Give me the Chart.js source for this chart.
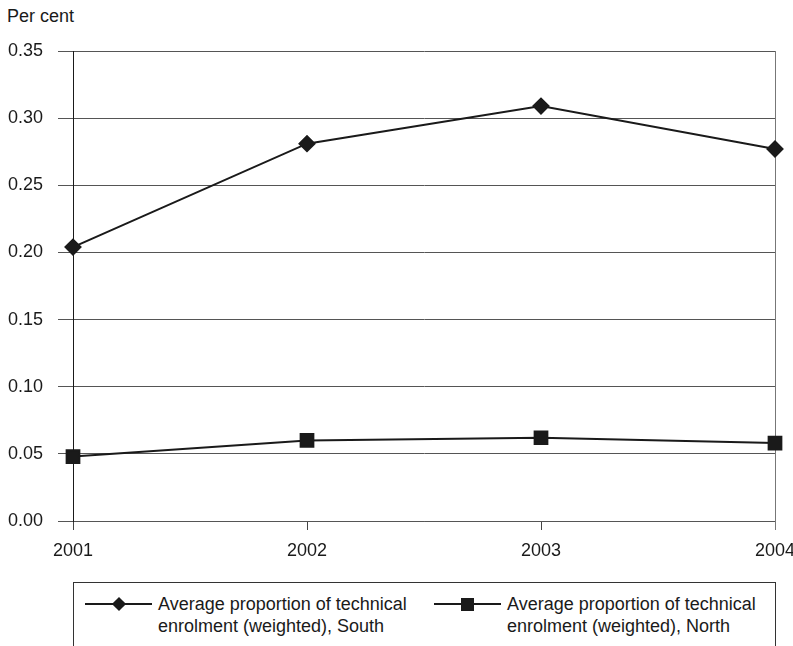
<!DOCTYPE html>
<html>
<head>
<meta charset="utf-8">
<script src="https://cdn.jsdelivr.net/npm/chart.js@4"></script>
<style>
  html, body { margin: 0; padding: 0; background: #fff; overflow: hidden; }
  body { width: 793px; height: 646px; position: relative; font-family: 'Liberation Sans', Arial, sans-serif; color: #1a1a1a; }
  #unit { position: absolute; left: 7px; top: 6px; font-size: 18px; }
  #wrap { position: absolute; left: 0; top: 0; width: 793px; height: 560px; }
  #legend { position: absolute; left: 73px; top: 582px; width: 701px; height: 120px; border: 1px solid #333; }
  .item { position: absolute; top: 10px; font-size: 18px; line-height: 22px; }
  .sym { position: absolute; top: 20px; width: 67px; height: 2px; background: #1a1a1a; }
  .sym i { position: absolute; left: 50%; top: 1px; background: #1a1a1a; }
  .sym .dia { width: 10px; height: 10px; margin: -5px 0 0 -5px; transform: rotate(45deg); }
  .sym .sq { width: 13px; height: 13px; margin: -6.5px 0 0 -6.5px; }
</style>
</head>
<body>
<div id="unit">Per cent</div>
<div id="wrap"><canvas id="chart" width="793" height="560"></canvas></div>
<div id="legend">
  <div class="sym" style="left:11px"><i class="dia"></i></div>
  <div class="item" style="left:84px">Average proportion of technical<br>enrolment (weighted), South</div>
  <div class="sym" style="left:360px"><i class="sq"></i></div>
  <div class="item" style="left:433px">Average proportion of technical<br>enrolment (weighted), North</div>
</div>
<script>
const years = ['2001', '2002', '2003', '2004'];
const south = [0.204, 0.281, 0.309, 0.277];
const north = [0.048, 0.060, 0.062, 0.058];
const yTicks = [0, 0.05, 0.10, 0.15, 0.20, 0.25, 0.30, 0.35];

const font = { family: "'Liberation Sans', Arial, sans-serif", size: 18 };
const ink = '#1a1a1a';

// grey right edge of the plot, running down to the tick mark
const frame = {
  id: 'frame',
  beforeDatasetsDraw(c) {
    const a = c.chartArea, ctx = c.ctx;
    ctx.save();
    ctx.strokeStyle = '#777';
    ctx.lineWidth = 1;
    ctx.beginPath();
    ctx.moveTo(a.right + 0.5, a.top);
    ctx.lineTo(a.right + 0.5, a.bottom + 9);
    ctx.stroke();
    ctx.restore();
  }
};

new Chart(document.getElementById('chart'), {
  type: 'line',
  data: {
    labels: years,
    datasets: [
      { label: 'South', data: south, borderColor: ink, backgroundColor: ink, borderWidth: 2,
        pointStyle: 'rectRot', pointRadius: 7.5, pointHoverRadius: 7.5, tension: 0 },
      { label: 'North', data: north, borderColor: ink, backgroundColor: ink, borderWidth: 2,
        pointStyle: 'rect', pointRadius: 9, pointHoverRadius: 9, tension: 0 }
    ]
  },
  options: {
    responsive: false,
    animation: false,
    layout: { padding: { top: 51, right: 18, left: 0, bottom: 0 } },
    plugins: { legend: { display: false }, tooltip: { enabled: false } },
    scales: {
      x: {
        offset: false,
        grid: { display: true, drawOnChartArea: false, drawTicks: true, tickLength: 9, color: '#444' },
        border: { display: true, color: '#555' },
        ticks: { font, color: ink, padding: 10, maxRotation: 0 },
        afterFit(s) { s.height = 39; s.paddingRight = 0; s.paddingLeft = 0; }
      },
      y: {
        min: 0, max: 0.35,
        afterBuildTicks(s) { s.ticks = yTicks.map(v => ({ value: v })); },
        grid: { color: '#555', lineWidth: 1, tickLength: 15 },
        border: { display: true, color: ink, width: 1 },
        ticks: { font, color: ink, padding: 15, callback: v => v.toFixed(2) },
        afterFit(s) { s.width = 73; s.paddingTop = 0; s.paddingBottom = 0; }
      }
    }
  },
  plugins: [frame]
});
</script>
</body>
</html>
